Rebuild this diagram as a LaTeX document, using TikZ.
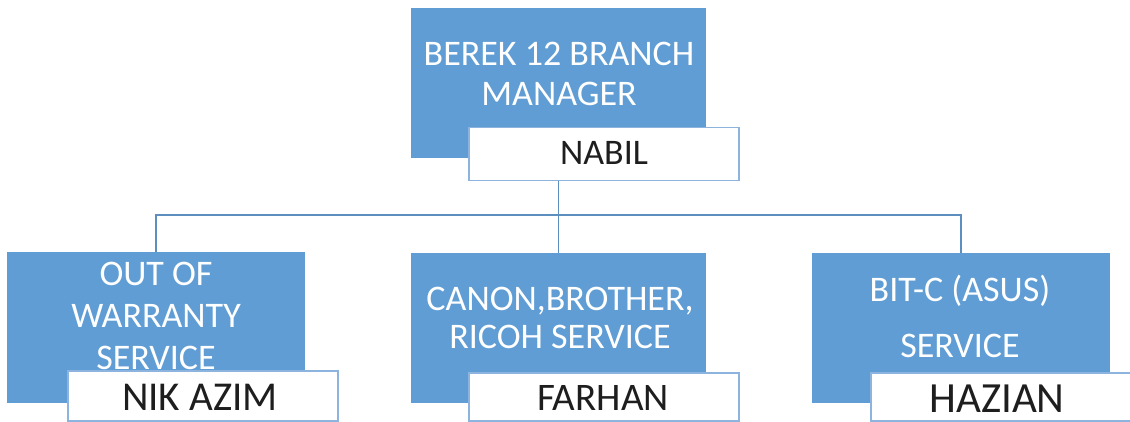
\documentclass[tikz,border=0pt]{standalone}
\usepackage{fontspec}
\setmainfont{Carlito}
\usepackage{tikz}
\definecolor{orgblue}{RGB}{95,157,212}
\definecolor{orgedge}{RGB}{140,180,222}
\definecolor{orgline}{RGB}{92,142,192}
\definecolor{orgtext}{RGB}{30,30,30}
\tikzset{
  bluebox/.style={fill=orgblue, draw=none, anchor=north west, inner sep=0pt},
  namebox/.style={fill=white, draw=orgedge, line width=1.5pt, anchor=north west, inner sep=0pt},
  bluetext/.style n args={1}{text=white, align=center, anchor=north, inner sep=0pt,
    font=\fontsize{36}{#1}\selectfont},
  nametext/.style={text=orgtext, anchor=base, inner sep=0pt, font=\fontsize{#1}{#1}\selectfont},
  link/.style={draw=orgline, line width=1.5pt}
}

\begin{document}
\begin{tikzpicture}[x=1pt,y=-1pt]
  \clip (0,0) rectangle (1130,422);
  % manager
  \node[bluebox, minimum width=295pt, minimum height=150pt] (mgr) at (411,8) {};
  \node[bluetext={40}] (mgrlbl) at (559,42) {BEREK 12 BRANCH\\MANAGER};
  \node[namebox, minimum width=270pt, minimum height=53pt] (nabil) at (468,127) {};
  \node[nametext=36] (nabillbl) at (604,165) {NABIL};
  % services
  \node[bluebox, minimum width=298pt, minimum height=151pt] (ows) at (7,252) {};
  \node[bluetext={42}] (owslbl) at (156,262) {OUT OF\\WARRANTY\\SERVICE};
  \node[namebox, minimum width=270pt, minimum height=50pt] (nik) at (67,370) {};
  \node[nametext=41] (niklbl) at (200,410) {NIK AZIM};
  \node[bluebox, minimum width=295pt, minimum height=150pt] (cbr) at (411,253) {};
  \node[bluetext={38}] (cbrlbl) at (560,287) {CANON,BROTHER,\\RICOH SERVICE};
  \node[namebox, minimum width=270pt, minimum height=48pt] (farhan) at (468,372) {};
  \node[nametext=39] (farhanlbl) at (603,410) {FARHAN};
  \node[bluebox, minimum width=298pt, minimum height=150pt] (bit) at (812,253) {};
  \node[bluetext={56}] (bitlbl) at (960,275) {BIT-C (ASUS)\\SERVICE};
  \node[namebox, minimum width=270pt, minimum height=48pt] (hazian) at (870,372) {};
  \node[nametext=43] (hazianlbl) at (997,412) {HAZIAN};
  % connectors
  \coordinate (bus) at (0,215);
  \draw[link] (mgr.south |- nabil.south) -- (cbr.north);
  \draw[link] (ows.north) -- (ows.north |- bus) -- (bit.north |- bus) -- (bit.north);
\end{tikzpicture}
\end{document}
